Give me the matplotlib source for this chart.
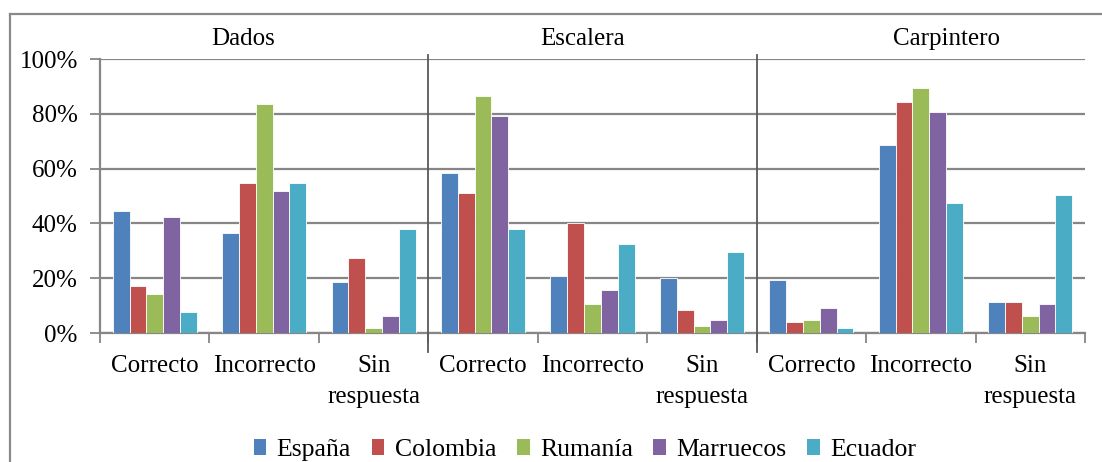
import matplotlib
matplotlib.use("Agg")
import matplotlib.pyplot as plt
import numpy as np
from matplotlib.patches import Patch
from matplotlib.lines import Line2D

plt.rcParams['font.family'] = ['Liberation Serif', 'DejaVu Serif']

panels = ["Dados", "Escalera", "Carpintero"]
categories = ["Correcto", "Incorrecto", "Sin\nrespuesta"] * 3
series = ["España", "Colombia", "Rumanía", "Marruecos", "Ecuador"]
colors = ["#4F81BD", "#C0504D", "#9BBB59", "#8064A2", "#4BACC6"]

espana    = [44.6, 36.5, 18.7, 58.5, 20.9, 20.1, 19.5, 68.7, 11.4]
colombia  = [17.2, 54.8, 27.5, 51.0, 40.0, 8.4, 4.0, 84.2, 11.4]
rumania   = [14.3, 83.5, 1.7, 86.4, 10.6, 2.4, 4.6, 89.5, 6.2]
marruecos = [42.2, 51.9, 6.1, 79.1, 15.8, 4.6, 9.2, 80.6, 10.6]
ecuador   = [7.6, 54.8, 37.9, 37.9, 32.6, 29.7, 1.8, 47.5, 50.4]
values = [espana, colombia, rumania, marruecos, ecuador]

W, H = 1102, 462
fig = plt.figure(figsize=(W / 100, H / 100), dpi=100)
L, R, T, B = 100, 1085, 59, 333
ax = fig.add_axes([L / W, (H - B) / H, (R - L) / W, (B - T) / H])

n = len(categories)
x = np.arange(n)
bw = 0.768 / 5
for i, (s, vals, c) in enumerate(zip(series, values, colors)):
    ax.bar(x + (i - 2) * bw, np.array(vals) / 100.0, width=bw, color=c,
           edgecolor="white", linewidth=0.6, label=s, zorder=3)

ax.set_xlim(-0.5, n - 0.5)
ax.set_ylim(0, 1.0)

FS = 18
grid_c = "#868686"
ax.set_yticks(np.arange(0, 1.01, 0.2))
ax.set_yticklabels([f"{int(round(v*100))}%" for v in np.arange(0, 1.01, 0.2)], fontsize=FS)
ax.yaxis.grid(True, color=grid_c, linewidth=1.6, zorder=0)
ax.tick_params(axis='y', length=7, width=1.3, color=grid_c, pad=9)

ax.set_xticks(np.arange(-0.5, n, 1.0))
ax.set_xticklabels([])
ax.set_xticks(x, minor=True)
ax.set_xticklabels(categories, minor=True, fontsize=FS, linespacing=1.5)
ax.tick_params(axis='x', which='major', length=7, width=1.3, color=grid_c, direction='out')
ax.tick_params(axis='x', which='minor', length=0, pad=16)

for side in ["top", "right"]:
    ax.spines[side].set_visible(False)
ax.spines["left"].set_color(grid_c)
ax.spines["left"].set_linewidth(1.6)
ax.spines["bottom"].set_color(grid_c)
ax.spines["bottom"].set_linewidth(1.6)

# separators
for xs in [2.5, 5.5]:
    ax.add_line(Line2D([xs, xs], [1.015, -0.07], color="#595959", linewidth=1.3,
                       clip_on=False, zorder=4))

# panel titles
title_px = [243, 583, 947]
for name, px in zip(panels, title_px):
    xd = (px - L) / ((R - L) / n) - 0.5
    ax.text(xd, 1.073, name, ha="center", va="center", fontsize=FS,
            transform=ax.transData, clip_on=False)

# legend
handles = [Patch(facecolor=c, edgecolor="none", label=s) for s, c in zip(series, colors)]
fig.legend(handles=handles, loc="center", bbox_to_anchor=(585 / W, 12 / H), ncol=5,
           frameon=False, fontsize=18.5, handlelength=0.5, handleheight=0.6,
           handletextpad=0.4, columnspacing=0.8, borderpad=0)

# outer chart border (cropped)
bc = "#898989"
fig.add_artist(Line2D([10 / W, 1.0], [(H - 14) / H] * 2, color=bc, linewidth=1.6,
                      transform=fig.transFigure))
fig.add_artist(Line2D([10 / W] * 2, [0, (H - 14) / H], color=bc, linewidth=1.6,
                      transform=fig.transFigure))

fig.savefig("out.png", dpi=100)
